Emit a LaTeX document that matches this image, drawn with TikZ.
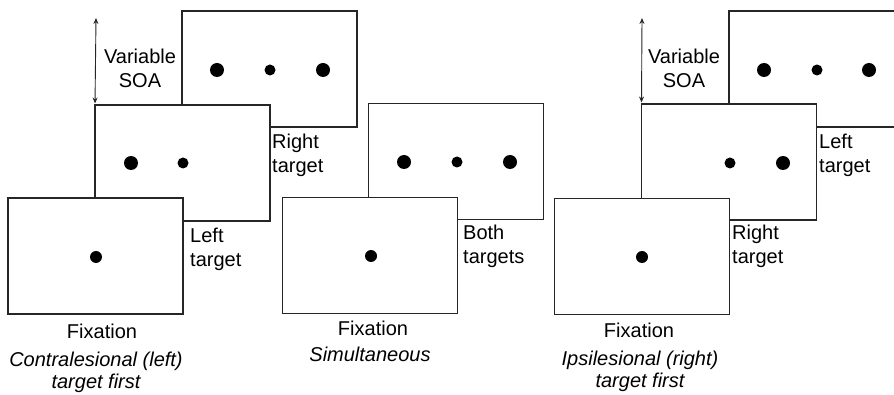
\documentclass[tikz,border=0pt]{standalone}
\usepackage{fontspec}
\setmainfont{Liberation Sans}
\usetikzlibrary{arrows.meta}
\begin{document}
\begin{tikzpicture}[x=1pt,y=-1pt,
 screen/.style={draw=black!85, line width=1.6pt, fill=white, minimum width=175pt, minimum height=116pt, inner sep=0pt, outer sep=0pt},
 bigdot/.style={circle, fill=black, minimum size=14pt, inner sep=0pt},
 smalldot/.style={circle, fill=black, minimum size=11pt, inner sep=0pt},
 fixdot/.style={circle, fill=black, minimum size=12pt, inner sep=0pt},
 lbl/.style={font=\fontsize{20}{24}\selectfont, inner sep=0pt, align=left, anchor=west},
 captxt/.style={font=\fontsize{20}{24}\selectfont, inner sep=0pt, align=center},
 capit/.style={font=\fontsize{20}{22}\selectfont\itshape, inner sep=0pt, align=center},
 soa/.style={line width=0.9pt, black!85, shorten >=1.5pt, {Stealth[length=6pt,width=5pt]}-{Stealth[length=6pt,width=5pt]}}]
\useasboundingbox (0,0) rectangle (894,395);
\clip (0,0) rectangle (894,395);
% ---- left group: contralesional first
\node[screen] (C) at (269.5,69) {};
\node[bigdot] (c1) at (217,70) {};
\node[smalldot] (c2) at (270,70) {};
\node[bigdot] (c3) at (323,70) {};
\node[screen] (B) at (182.5,163) {};
\node[bigdot] (b1) at (131,163) {};
\node[smalldot] (b2) at (183,163) {};
\node[screen] (A) at (95.5,256) {};
\node[fixdot] (a1) at (96,257) {};
\coordinate (t1) at (96,18);
\draw[soa] (t1) -- (B.north west);
\node[captxt] (soa1) at (140,68) {Variable\\SOA};
\node[lbl] (rt1) at (272,155) {Right\\target};
\node[lbl] (lt1) at (190,249) {Left\\target};
\node[captxt] (fx1) at (102,331) {Fixation};
\node[capit] (cn1) at (96,372) {Contralesional (left)\\target first};
% ---- middle group: simultaneous
\node[screen] (D) at (456,161.5) {};
\node[bigdot] (d1) at (404,162) {};
\node[smalldot] (d2) at (457,162) {};
\node[bigdot] (d3) at (510,162) {};
\node[screen] (E) at (370,255.5) {};
\node[fixdot] (e1) at (371,256) {};
\node[lbl] (bt) at (463,246) {Both\\targets};
\node[captxt] (fx2) at (373,328) {Fixation};
\node[capit] (cn2) at (370,354) {Simultaneous};
% ---- right group: ipsilesional first
\node[screen] (F) at (816.5,69) {};
\node[bigdot] (f1) at (764,70) {};
\node[smalldot] (f2) at (817,70) {};
\node[bigdot] (f3) at (869,70) {};
\node[screen] (G) at (729,162) {};
\node[smalldot] (g1) at (730,163) {};
\node[bigdot] (g2) at (783,163) {};
\node[screen] (H) at (642,256.5) {};
\node[fixdot] (h1) at (642,257) {};
\coordinate (t2) at (642,18);
\draw[soa] (t2) -- (G.north west);
\node[captxt] (soa2) at (684,68) {Variable\\SOA};
\node[lbl] (lt2) at (819,155) {Left\\target};
\node[lbl] (rt2) at (732,246) {Right\\target};
\node[captxt] (fx3) at (639,330) {Fixation};
\node[capit] (cn3) at (640,371) {Ipsilesional (right)\\target first};
\end{tikzpicture}
\end{document}
